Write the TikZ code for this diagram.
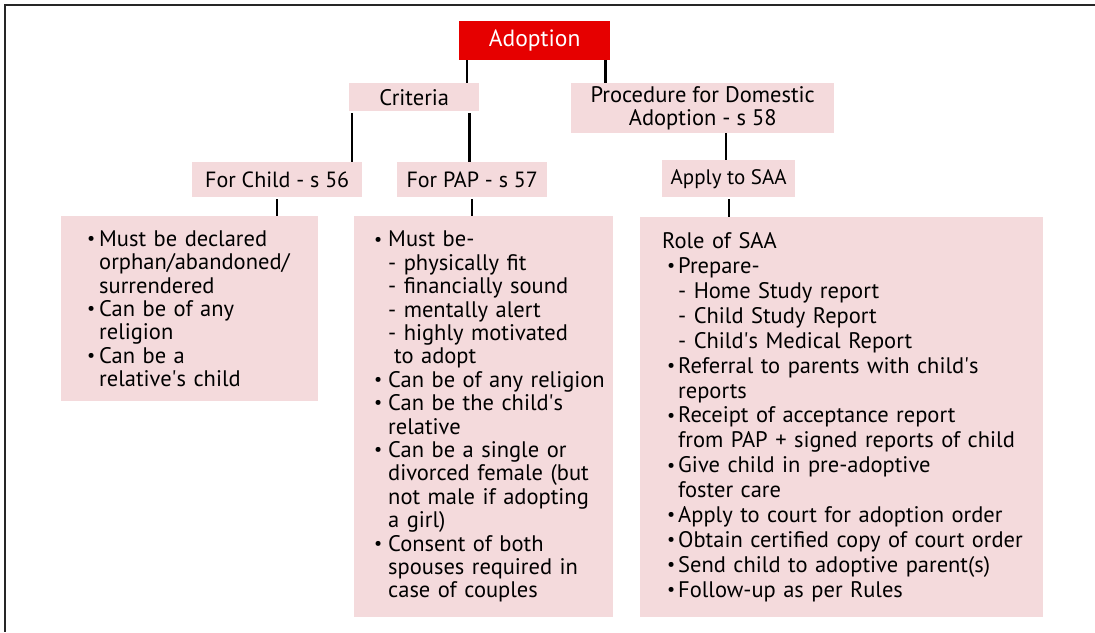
\documentclass[tikz,border=0pt]{standalone}
\usepackage{fontspec}
\setmainfont{PT Sans}
\usepackage{xcolor}
\usepackage{tikz}
\definecolor{adoptred}{RGB}{230,0,0}
\definecolor{boxpink}{RGB}{244,218,220}
\newcommand{\apos}{\textquotesingle}
\newcommand{\dotmark}{\raisebox{0.15ex}{\scalebox{0.8}{\textbullet}}}
\newcommand{\bul}[2][12pt]{\mbox{\makebox[#1][l]{\dotmark}#2}}
\newcommand{\cont}[2][12pt]{\mbox{\hspace*{#1}#2}}
\tikzset{
  headbox/.style={
    fill=adoptred,
    text=white,
    anchor=north west,
    inner sep=0pt,
    font=\fontsize{23.5}{24}\selectfont},
  pinkbox/.style={
    fill=boxpink,
    anchor=north west,
    inner sep=0pt,
    align=center,
    font=\fontsize{22.5}{23}\selectfont},
  listbox/.style={
    fill=boxpink,
    anchor=north west,
    inner ysep=0pt,
    align=left,
    font=\fontsize{22.5}{23.4}\selectfont},
  link/.style={line width=2.4pt},
  frame/.style={line width=2.5pt, black!85}
  }
\begin{document}
\begin{tikzpicture}[x=1pt,y=-1pt]
      \useasboundingbox (0,0) rectangle (1095,632);
      \draw [frame] (1095,5) -- (5,5) -- (5,632);
      \node[headbox, minimum width=151pt, minimum height=39pt] (adopt) at (459,21) {Adoption};
      \node[pinkbox, minimum width=130pt, minimum height=28pt] (crit) at (349,83) {Criteria};
      \node[pinkbox, minimum width=263pt, minimum height=50pt] (proc) at (571,83) {Procedure for Domestic\\Adoption - s 58};
      \node[pinkbox, minimum width=170pt, minimum height=35pt, font=\fontsize{22}{23}\selectfont] (child) at (192,162) {For Child - s 56};
      \node[pinkbox, minimum width=150pt, minimum height=35pt, font=\fontsize{22}{23}\selectfont] (pap) at (397,162) {For PAP - s 57};
      \node[pinkbox, minimum width=133pt, minimum height=37pt, font=\fontsize{21}{23}\selectfont] (apply) at (662,160) {Apply to SAA};
      \node[listbox, inner xsep=26pt, text width=205pt, minimum height=185pt] (childlist) at (61,216) {%
        \bul{Must be declared}\\
        \cont{orphan/abandoned/}\\
        \cont{surrendered}\\
        \bul{Can be of any}\\
        \cont{religion}\\
        \bul{Can be a}\\
        \cont{relative\apos s child}};
      \node[listbox, inner xsep=20pt, text width=219pt, minimum height=401pt] (paplist) at (354,216) {%
        \bul[14pt]{Must be-}\\
        \cont[14pt]{- physically fit}\\
        \cont[14pt]{- financially sound}\\
        \cont[14pt]{- mentally alert}\\
        \cont[14pt]{- highly motivated}\\
        \cont[20pt]{to adopt}\\
        \bul[14pt]{Can be of any religion}\\
        \bul[14pt]{Can be the child\apos s}\\
        \cont[14pt]{relative}\\
        \bul[14pt]{Can be a single or}\\
        \cont[14pt]{divorced female (but}\\
        \cont[14pt]{not male if adopting}\\
        \cont[14pt]{a girl)}\\
        \bul[14pt]{Consent of both}\\
        \cont[14pt]{spouses required in}\\
        \cont[14pt]{case of couples}};
      \node[listbox, inner xsep=22pt, text width=359pt, minimum height=400pt, font=\fontsize{22.5}{24.9}\selectfont] (saalist) at (640,217) {%
        Role of SAA\\
        \hspace*{5pt}\bul[11pt]{Prepare-}\\
        \cont[16pt]{- Home Study report}\\
        \cont[16pt]{- Child Study Report}\\
        \cont[16pt]{- Child\apos s Medical Report}\\
        \hspace*{5pt}\bul[11pt]{Referral to parents with child\apos s}\\
        \cont[16pt]{reports}\\
        \hspace*{5pt}\bul[11pt]{Receipt of acceptance report}\\
        \cont[16pt]{from PAP + signed reports of child}\\
        \hspace*{5pt}\bul[11pt]{Give child in pre-adoptive}\\
        \cont[16pt]{foster care}\\
        \hspace*{5pt}\bul[11pt]{Apply to court for adoption order}\\
        \hspace*{5pt}\bul[11pt]{Obtain certified copy of court order}\\
        \hspace*{5pt}\bul[11pt]{Send child to adoptive parent(s)}\\
        \hspace*{5pt}\bul[11pt]{Follow-up as per Rules}};
      \draw [link]
      ([xshift=8pt]adopt.south west) -- ([xshift=8pt]adopt.south west |- crit.north)
      ([xshift=-5pt]adopt.south east) -- ([xshift=-5pt]adopt.south east |- proc.north)
      ([xshift=3pt,yshift=-2pt]crit.south west) -- ([xshift=3pt]crit.south west |- child.north)
      ([xshift=-10pt,yshift=-2pt]crit.south east) -- ([xshift=-10pt]crit.south east |- pap.north)
      ([xshift=-3pt]apply.north |- proc.south) -- ([xshift=-3pt]apply.north)
      ([yshift=-2pt]child.south) -- (child.south |- childlist.north)
      ([yshift=-2pt]pap.south) -- (pap.south |- paplist.north)
      ([yshift=-2pt]apply.south) -- (apply.south |- saalist.north);
    \end{tikzpicture}
\end{document}
